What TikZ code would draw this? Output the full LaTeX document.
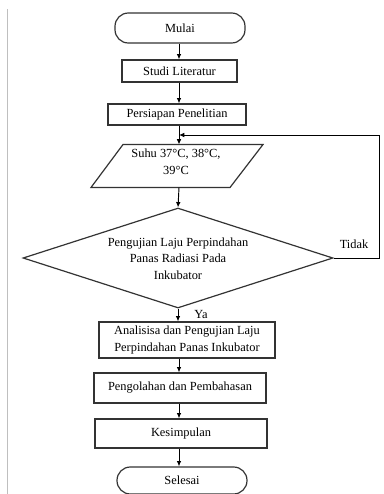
\documentclass[tikz,border=0pt]{standalone}
\usepackage{fontspec}
\setmainfont{Liberation Serif}
\usetikzlibrary{shapes.geometric,arrows.meta}
\begin{document}
\begin{tikzpicture}[x=0.75pt,y=-0.75pt,
  font=\fontsize{9.3}{12.5}\selectfont,
  box/.style={draw=black!80,line width=0.9pt,rectangle,inner sep=0pt,align=center},
  term/.style={box,rounded corners=10pt},
  conn/.style={draw=black,line width=0.7pt,-{Latex[length=4pt,width=3.5pt]}},
  shp/.style={draw=black!80,line width=0.9pt}]
\useasboundingbox (0,0) rectangle (384,494);
\draw[black!25,line width=1pt] (7.5,9) -- (7.5,494);
% nodes
\node[term,minimum width=97.5pt,minimum height=22.5pt] (mulai) at (180,28) {Mulai};
\node[box,minimum width=86.25pt,minimum height=16.5pt] (studi) at (179.5,71) {Studi Literatur};
\node[box,minimum width=103.5pt,minimum height=15.75pt] (pers) at (177,114.5) {Persiapan Penelitian};
% parallelogram
\draw[shp] (123,144.5) -- (263,144.5) -- (230,187.5) -- (91,187.5) -- cycle;
\coordinate (ptop) at (179,144.5);
\coordinate (pbot) at (179,187.5);
\node[align=center,inner sep=0pt] (suhu) at (176,161.5) {Suhu 37°C, 38°C,\\39°C};
% diamond
\node[diamond,shp,minimum width=232.5pt,minimum height=75pt,inner sep=0pt] (dia) at (178,258) {};
\node[align=center,inner sep=0pt] (diat) at (178,258.5) {Pengujian Laju Perpindahan\\Panas Radiasi Pada\\Inkubator};
\node[box,minimum width=132pt,minimum height=27pt] (ana) at (187,340) {Analisisa dan Pengujian Laju\\Perpindahan Panas Inkubator};
\node[box,minimum width=129pt,minimum height=22.5pt] (olah) at (180,388) {Pengolahan dan Pembahasan};
\node[box,minimum width=129pt,minimum height=21.75pt] (kes) at (181,433.5) {Kesimpulan};
\node[term,minimum width=97.5pt,minimum height=20.25pt] (sel) at (182,480.5) {Selesai};
% connectors
\coordinate (x) at (179,0);
\draw[conn] (x |- mulai.south) -- (x |- studi.north);
\draw[conn] (x |- studi.south) -- (x |- pers.north);
\draw[conn] (x |- pers.south) -- (ptop);
\draw[conn] (pbot) -- (dia.north);
\draw[conn] (dia.south) -- (dia.south |- ana.north);
\draw[conn] (x |- ana.south) -- (x |- olah.north);
\draw[conn] (x |- olah.south) -- (x |- kes.north);
\draw[conn] (x |- kes.south) -- (x |- sel.north);
\coordinate (loopr) at (379,135);
\coordinate (loopj) at (179,135);
\draw[conn] (dia.east) -- (dia.east -| loopr) -- (loopr) -- (loopj);
\node[inner sep=0pt] (tidak) at (354,244) {Tidak};
\node[inner sep=0pt] (ya) at (201,314) {Ya};
\end{tikzpicture}
\end{document}
